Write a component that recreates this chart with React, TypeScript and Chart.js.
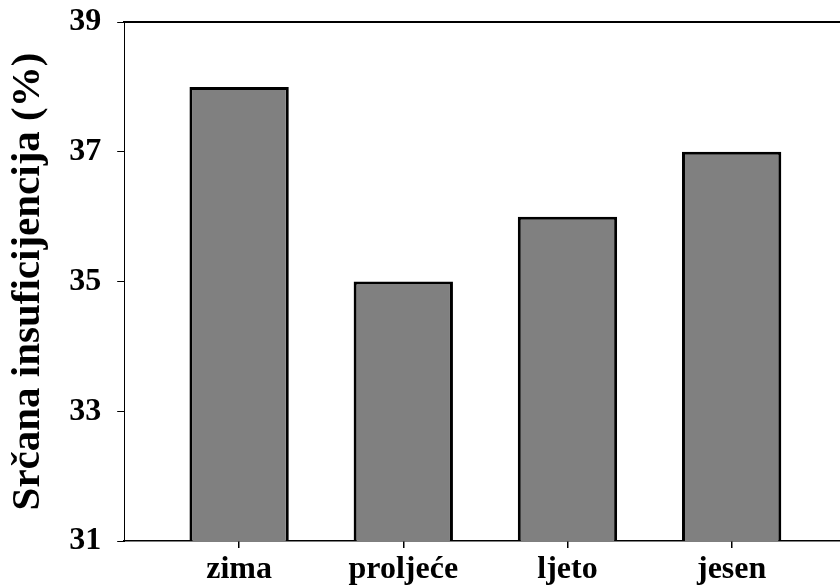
import React, { useEffect, useRef } from "react";
import { Chart, registerables } from "chart.js";

Chart.register(...registerables);

const categories: string[] = ["zima", "proljeće", "ljeto", "jesen"];
const values: number[] = [38, 35, 36, 37];
const yTicks: number[] = [31, 33, 35, 37, 39];
const yTitle = "Srčana insuficijencija (%)";

export default function App() {
  const ref = useRef<HTMLCanvasElement | null>(null);

  useEffect(() => {
    if (!ref.current) return;
    const font = "'Liberation Serif', 'Times New Roman', serif";
    const chart = new Chart(ref.current, {
      type: "bar",
      data: {
        datasets: [
          {
            data: categories.map((c, i) => ({ x: i + 1, y: values[i] })),
            backgroundColor: "#808080",
            borderColor: "#000000",
            borderWidth: 3,
            borderSkipped: "start",
            barPercentage: 0.605,
            categoryPercentage: 1,
          },
        ],
      },
      options: {
        responsive: false,
        animation: false,
        layout: { padding: { top: 22, right: 0, left: 4, bottom: -4 } },
        plugins: { legend: { display: false }, tooltip: { enabled: false } },
        scales: {
          x: {
            type: "linear",
            position: "bottom",
            min: 0.3,
            max: 4.66,
            offset: false,
            afterBuildTicks: (axis: any) => {
              axis.ticks = categories.map((_, i) => ({ value: i + 1 }));
            },
            ticks: {
              callback: (v: any) => categories[Number(v) - 1] ?? "",
              color: "#000",
              font: { family: font, size: 32, weight: "bold", lineHeight: 1 },
              padding: 6,
              maxRotation: 0,
              autoSkip: false,
            },
            grid: {
              display: true,
              offset: false,
              drawOnChartArea: false,
              drawTicks: true,
              tickLength: 7,
              color: "#000",
              lineWidth: 1.5,
            },
            border: { display: true, color: "#000", width: 1.5 },
          },
          xTop: {
            type: "linear",
            position: "top",
            min: 0.3,
            max: 4.66,
            ticks: { display: false },
            grid: { display: false, drawTicks: false, tickLength: 0 },
            border: { display: true, color: "#000", width: 2 },
            afterFit: (axis: any) => {
              axis.height = 0;
              axis.paddingTop = 0;
              axis.paddingBottom = 0;
            },
          },
          y: {
            type: "linear",
            min: 31,
            max: 39,
            afterBuildTicks: (axis: any) => {
              axis.ticks = yTicks.map((v) => ({ value: v }));
            },
            afterFit: (axis: any) => {
              axis.paddingTop = 0;
              axis.paddingBottom = 0;
            },
            ticks: {
              color: "#000",
              font: { family: font, size: 32, weight: "bold", lineHeight: 1 },
              padding: 16,
            },
            grid: {
              display: true,
              offset: false,
              drawOnChartArea: false,
              drawTicks: true,
              tickLength: 7,
              color: "#000",
              lineWidth: 1,
            },
            border: { display: true, color: "#000", width: 1 },
            title: {
              display: true,
              text: yTitle,
              color: "#000",
              font: { family: font, size: 41, weight: "bold" },
              padding: { top: 0, bottom: 0 },
            },
          },
        },
      } as any,
    });
    return () => chart.destroy();
  }, []);

  return (
    <div style={{ position: "fixed", left: 0, top: 0, width: 840, height: 588, background: "#fff" }}>
      <canvas ref={ref} width={840} height={588} />
    </div>
  );
}
